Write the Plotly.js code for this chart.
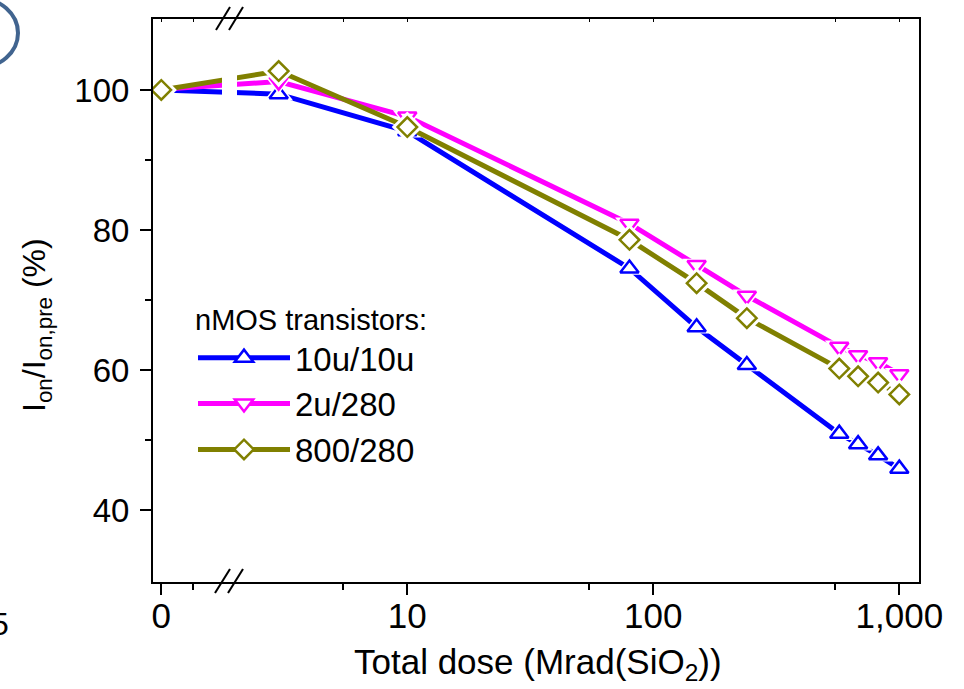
<!DOCTYPE html>
<html>
<head>
<meta charset="utf-8">
<script src="https://cdn.plot.ly/plotly-3.0.1.min.js"></script>
<style>html,body{margin:0;padding:0;background:#fff;}#chart{width:964px;height:689px;}</style>
</head>
<body>
<div id="chart"></div>
<script>
// Total dose (Mrad(SiO2)); the "0" dose point is drawn at the position labelled "0"
var doses = [1, 3, 10, 80, 150, 240, 570, 680, 820, 1000];
var seriesNames = ["10u/10u", "2u/280", "800/280"];
var ion10u10u = [100, 99.4, 94.1, 74.5, 66.1, 60.7, 50.9, 49.4, 47.8, 45.9];
var ion2u280 = [100.1, 101.2, 96.2, 80.9, 75.0, 70.6, 63.3, 62.1, 61.1, 59.4];
var ion800280 = [100, 102.7, 94.7, 78.6, 72.4, 67.4, 60.2, 59.1, 58.2, 56.5];
var xTickVals = [1, 10, 100, 1000];
var xTickText = ["0", "10", "100", "1,000"];
var xMinorVals = [1.35, 5.5, 55, 550];
var yTickVals = [40, 60, 80, 100];
var yMinorVals = [50, 70, 90];

var FONT = "Liberation Sans, Arial, sans-serif";
var colors = ["#0000ff", "#ff00ff", "#808000"];
var haloSymbols = ["triangle-up", "triangle-down", "diamond"];
var sizes = [16, 16, 15];
var ys = [ion10u10u, ion2u280, ion800280];

var traces = [];
for (var i = 0; i < 3; i++) {
  traces.push({x: doses, y: ys[i], mode: "lines", line: {color: colors[i], width: 5}, showlegend: false, hoverinfo: "skip"});
  traces.push({x: doses, y: ys[i], mode: "markers", marker: {symbol: haloSymbols[i], size: sizes[i] + 9, color: "#ffffff", line: {width: 0}}, showlegend: false, hoverinfo: "skip"});
  traces.push({x: doses, y: ys[i], mode: "markers", marker: {symbol: haloSymbols[i], size: sizes[i], color: "#ffffff", line: {color: colors[i], width: 2.5}}, showlegend: false});
}
for (var j = 0; j < 3; j++) {
  traces.push({x: [null], y: [null], name: seriesNames[j], mode: "lines+markers",
    line: {color: colors[j], width: 5},
    marker: {symbol: haloSymbols[j], size: sizes[j], color: "#ffffff", line: {color: colors[j], width: 2.5}}});
}
traces.push({x: [null], y: [null], xaxis: "x2", yaxis: "y", mode: "markers", showlegend: false, hoverinfo: "skip"});

function px(x) { return (x - 153) / 766; }
function py(y) { return (582 - y) / 563; }

var shapes = [
  {type: "rect", xref: "paper", yref: "paper", x0: px(222), x1: px(237), y0: py(150), y1: py(22), fillcolor: "#ffffff", line: {width: 0}, layer: "above"},
  {type: "line", xref: "paper", yref: "paper", x0: px(215), y0: py(593), x1: px(230), y1: py(569), line: {color: "#000", width: 2}},
  {type: "line", xref: "paper", yref: "paper", x0: px(228), y0: py(593), x1: px(243), y1: py(569), line: {color: "#000", width: 2}},
  {type: "line", xref: "paper", yref: "paper", x0: px(216), y0: py(30), x1: px(230), y1: py(7), line: {color: "#000", width: 2}},
  {type: "line", xref: "paper", yref: "paper", x0: px(229), y0: py(30), x1: px(243), y1: py(7), line: {color: "#000", width: 2}},
  {type: "circle", xref: "paper", yref: "paper", x0: px(-62), x1: px(18), y0: py(-2), y1: py(68), line: {color: "#41648f", width: 4}}
];

var layout = {
  width: 964, height: 689,
  margin: {l: 153, r: 45, t: 19, b: 107},
  paper_bgcolor: "#fff", plot_bgcolor: "#fff",
  font: {family: FONT, color: "#000", size: 34},
  showlegend: true,
  legend: {x: px(193), y: py(292), xanchor: "left", yanchor: "top", bgcolor: "rgba(0,0,0,0)",
    font: {family: FONT, size: 33, color: "#000"}, itemwidth: 92, tracegroupgap: 0,
    title: {text: "nMOS transistors:", font: {family: FONT, size: 29, color: "#000"}}},
  xaxis: {type: "log", range: [-0.0337, 3.080], tickmode: "array", tickvals: xTickVals, ticktext: xTickText,
    ticks: "outside", ticklen: 11, tickwidth: 2, tickcolor: "#000", showline: true, linewidth: 2, linecolor: "#000",
    showgrid: false, zeroline: false, tickfont: {family: FONT, size: 35, color: "#000"}, ticklabelstandoff: -9,
    minor: {tickvals: xMinorVals, ticks: "outside", ticklen: 6, tickwidth: 2, tickcolor: "#000", showgrid: false}},
  xaxis2: {type: "log", range: [-0.0337, 3.080], overlaying: "x", side: "top", tickmode: "array",
    tickvals: [1, 1.35, 5.5, 10, 55, 100, 550, 1000], ticks: "inside", ticklen: 3, tickwidth: 1.5, tickcolor: "#000",
    showticklabels: false, showline: true, linewidth: 2, linecolor: "#000", showgrid: false, zeroline: false},
  yaxis: {range: [29.71, 110.14], tickmode: "array", tickvals: yTickVals, ticks: "outside", ticklen: 11, tickwidth: 2,
    tickcolor: "#000", showline: true, mirror: true, linewidth: 2, linecolor: "#000", showgrid: false, zeroline: false,
    tickfont: {family: FONT, size: 33, color: "#000"}, ticklabelstandoff: 4,
    minor: {tickvals: yMinorVals, ticks: "outside", ticklen: 6, tickwidth: 2, tickcolor: "#000", showgrid: false}},
  shapes: shapes,
  annotations: [
    {xref: "paper", yref: "paper", x: px(538), y: py(664), text: "Total dose (Mrad(SiO<sub>2</sub>))",
      showarrow: false, xanchor: "center", yanchor: "middle", font: {family: FONT, size: 35, color: "#000"}},
    {xref: "paper", yref: "paper", x: px(36), y: py(325), text: "I<sub>on</sub>/I<sub>on,pre</sub> (%)", textangle: -90,
      showarrow: false, xanchor: "center", yanchor: "middle", font: {family: FONT, size: 32, color: "#000"}},
    {xref: "paper", yref: "paper", x: px(11), y: py(624), text: "5", showarrow: false, xanchor: "right", yanchor: "middle",
      font: {family: FONT, size: 32, color: "#000"}}
  ]
};

Plotly.newPlot("chart", traces, layout, {displayModeBar: false, staticPlot: true});
</script>
</body>
</html>
